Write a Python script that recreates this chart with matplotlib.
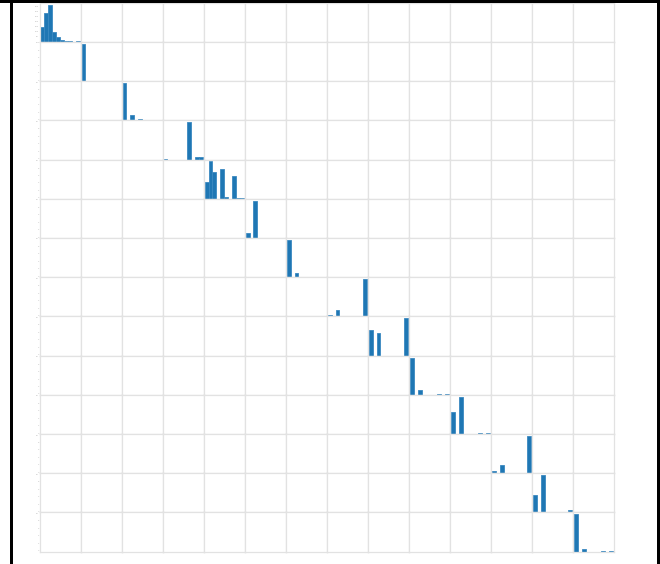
import matplotlib
matplotlib.use("Agg")
import matplotlib.pyplot as plt
from matplotlib.patches import Rectangle

# =========================
# 1. DATA (10-bin histogram counts per variable, diagonal of scatter matrix)
# =========================
n_bins = 10
counts_v01 = [150, 290, 370, 100, 50, 20, 10, 10, 0, 7]
counts_v02 = [380, 0, 0, 0, 0, 0, 0, 0, 0, 1]
counts_v03 = [367, 0, 50, 0, 10, 0, 0, 0, 0, 7]
counts_v04 = [5, 0, 0, 0, 0, 0, 363, 0, 25, 25]
counts_v05 = [163, 363, 263, 0, 287, 13, 0, 220, 10, 5]
counts_v06 = [53, 0, 370, 0, 0, 5, 5, 5, 0, 5]
counts_v07 = [370, 0, 43, 0, 0, 7, 0, 7, 0, 7]
counts_v08 = [10, 0, 60, 0, 0, 0, 0, 0, 0, 370]
counts_v09 = [250, 0, 220, 0, 0, 0, 0, 0, 0, 360]
counts_v10 = [360, 0, 47, 0, 0, 0, 0, 5, 0, 5]
counts_v11 = [213, 0, 367, 0, 0, 0, 0, 7, 0, 7]
counts_v12 = [23, 0, 80, 0, 0, 0, 0, 3, 0, 363]
counts_v13 = [170, 0, 360, 0, 0, 0, 0, 7, 0, 20]
counts_v14 = [370, 0, 30, 0, 0, 0, 0, 7, 0, 7]

all_counts = [counts_v01, counts_v02, counts_v03, counts_v04, counts_v05,
              counts_v06, counts_v07, counts_v08, counts_v09, counts_v10,
              counts_v11, counts_v12, counts_v13, counts_v14]
n = len(all_counts)

# =========================
# 2. FIGURE
# =========================
W, H = 660, 564
fig, axes = plt.subplots(n, n, figsize=(W / 100, H / 100), dpi=100)
fig.subplots_adjust(left=39.5 / W, right=614 / W, top=1 - 2.8 / H,
                    bottom=1 - 551.7 / H, wspace=0, hspace=0)

pad = n_bins * 0.025
for i in range(n):
    for j in range(n):
        ax = axes[i, j]
        for s in ax.spines.values():
            s.set_color("#e2e2e2")
            s.set_linewidth(0.9)
        ax.set_xlim(-pad, n_bins + pad)
        if i == j:
            ax.bar(range(n_bins), all_counts[i], width=1.0, align="edge",
                   color="#1f77b4", edgecolor="#3a88c0", linewidth=0.6)
            ax.set_ylim(0, max(all_counts[i]) * 1.05)
        else:
            ax.set_ylim(-pad, n_bins + pad)
        ax.tick_params(length=0, labelsize=1.5, labelcolor="#b0b0b0", pad=0.5)
        if i != n - 1:
            ax.set_xticklabels([])
        if j != 0:
            ax.set_yticklabels([])

# black screenshot frame
fig.add_artist(Rectangle((0, 1 - 2.7 / H), 1, 2.7 / H, transform=fig.transFigure,
                         color="black", lw=0))
fig.add_artist(Rectangle((10 / W, 0), 2.5 / W, 1, transform=fig.transFigure,
                         color="black", lw=0))
fig.add_artist(Rectangle((656.5 / W, 0), 3.5 / W, 1, transform=fig.transFigure,
                         color="black", lw=0))

plt.savefig("out.png", dpi=100)
